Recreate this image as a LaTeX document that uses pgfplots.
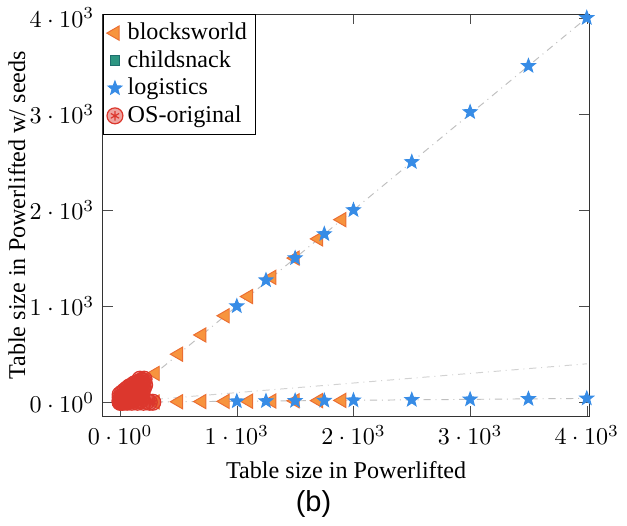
\documentclass[border=0pt]{standalone}
\usepackage{pgfplots}
\pgfplotsset{compat=1.18}
\usepackage{fontspec}
\setmainfont{Liberation Serif}
\newfontfamily\sansb{Liberation Sans}
\definecolor{bwfill}{RGB}{247,148,62}
\definecolor{bwdraw}{RGB}{235,110,50}
\definecolor{csfill}{RGB}{45,150,130}
\definecolor{csdraw}{RGB}{30,110,110}
\definecolor{lgblue}{RGB}{55,140,230}
\definecolor{osred}{RGB}{220,55,45}
\pgfdeclareplotmark{oast}{%
  \pgfpathcircle{\pgfpointorigin}{\pgfplotmarksize}\pgfusepathqfillstroke
  \pgfpathmoveto{\pgfqpoint{0pt}{-0.6\pgfplotmarksize}}\pgfpathlineto{\pgfqpoint{0pt}{0.6\pgfplotmarksize}}%
  \pgfpathmoveto{\pgfqpointpolar{30}{0.6\pgfplotmarksize}}\pgfpathlineto{\pgfqpointpolar{210}{0.6\pgfplotmarksize}}%
  \pgfpathmoveto{\pgfqpointpolar{150}{0.6\pgfplotmarksize}}\pgfpathlineto{\pgfqpointpolar{330}{0.6\pgfplotmarksize}}%
  \pgfusepathqstroke}
\pgfdeclareplotmark{fstar}{%
  \pgfpathmoveto{\pgfqpointpolar{90}{\pgfplotmarksize}}%
  \pgfpathlineto{\pgfqpointpolar{126}{0.42\pgfplotmarksize}}%
  \pgfpathlineto{\pgfqpointpolar{162}{\pgfplotmarksize}}%
  \pgfpathlineto{\pgfqpointpolar{198}{0.42\pgfplotmarksize}}%
  \pgfpathlineto{\pgfqpointpolar{234}{\pgfplotmarksize}}%
  \pgfpathlineto{\pgfqpointpolar{270}{0.42\pgfplotmarksize}}%
  \pgfpathlineto{\pgfqpointpolar{306}{\pgfplotmarksize}}%
  \pgfpathlineto{\pgfqpointpolar{342}{0.42\pgfplotmarksize}}%
  \pgfpathlineto{\pgfqpointpolar{18}{\pgfplotmarksize}}%
  \pgfpathlineto{\pgfqpointpolar{54}{0.42\pgfplotmarksize}}%
  \pgfpathclose\pgfusepathqfillstroke}
\begin{document}
\begin{tikzpicture}
\begin{axis}[
  width=202pt, height=167pt, scale only axis,
  xmin=-150, xmax=4025, ymin=-150, ymax=4040,
  xtick={0,1000,2000,3000,4000}, ytick={0,1000,2000,3000,4000},
  scaled ticks=false,
  xticklabel={\pgfmathprintnumber[sci]{\tick}},
  yticklabel={\pgfmathprintnumber[sci]{\tick}},
  xlabel={Table size in Powerlifted},
  ylabel={Table size in Powerlifted w/ seeds},
  ylabel style={yshift=-5pt},
  legend style={at={(0,1)}, anchor=north west, draw=black, font=\normalsize,
    inner sep=1.5pt, row sep=-1pt},
  legend cell align=left,
  axis line style={black!80},
  tick style={black!70},
]
\addplot[forget plot, gray!50, dash dot, thin] coordinates {(0,0) (4000,4000)};
\addplot[forget plot, gray!35, dash dot, thin] coordinates {(0,0) (4000,400)};
\addplot[forget plot, gray!50, dash dot, thin] coordinates {(0,0) (4000,40)};
\addplot[only marks, mark=triangle*, mark size=3.4pt, mark options={rotate=90, fill=bwfill, draw=bwdraw}] coordinates {
(100,100) (300,300) (500,500) (700,700) (900,900) (1100,1100) (1300,1300) (1500,1500) (1700,1700) (1900,1900)
(300,3) (500,5) (700,7) (900,9) (1100,11) (1300,13) (1500,15) (1700,17) (1900,19)
};
\addlegendentry{blocksworld}
\addplot[only marks, mark=square*, mark size=2pt, mark options={fill=csfill, draw=csdraw}] coordinates {
(10,10) (30,25) (60,50) (80,80)
};
\addlegendentry{childsnack}
\addplot[only marks, mark=fstar, mark size=3pt, mark options={draw=lgblue, fill=lgblue, line width=0.4pt}] coordinates {
(1000,1000) (1250,1270) (1500,1500) (1750,1750) (2000,2000) (2500,2500) (3000,3020) (3500,3500) (4000,4000)
(1000,10) (1250,12) (1500,15) (1750,17) (2000,20) (2500,25) (3000,30) (3500,35) (4000,40)
};
\addlegendentry{logistics}
\addplot[only marks, mark=oast, mark size=3.3pt, mark options={draw=osred, fill=osred, fill opacity=0.45, line width=0.5pt}] coordinates {
(0,0) (5,5) (10,8) (10,10) (15,12) (20,20) (25,18) (30,30) (35,28) (40,40) (45,35) (50,50) (55,45)
(60,60) (70,65) (80,80) (90,85) (100,100) (110,100) (120,120) (130,125) (140,140) (150,150)
(160,160) (170,170) (180,190) (190,200) (200,220) (205,240) (170,240) (185,225)
(20,0) (40,5) (60,10) (80,15) (100,20) (120,30) (140,40) (160,50) (180,60)
(50,20) (70,30) (90,40) (110,60) (130,80) (150,90) (170,110) (190,130) (200,150) (210,180)
(0,20) (10,40) (20,60) (40,80) (60,100) (80,120) (100,140) (120,160) (140,190) (160,210)
(0,50) (0,80) (20,100) (40,120) (60,140) (80,160) (100,170) (120,190)
(30,10) (50,30) (70,50) (90,70) (110,80) (130,100) (150,120) (170,140) (190,160)
(10,25) (30,45) (50,70) (70,90) (90,110) (110,130) (130,150) (150,170) (170,200)
(25,5) (45,15) (65,25) (85,30) (105,45) (125,55) (145,65) (165,80) (185,100)
(100,0) (150,0) (200,0) (250,0) (280,0) (230,10) (60,0) (130,10) (175,20) (5,0) (0,10)
};
\addlegendentry{OS-original}
\end{axis}
\node[anchor=north, font=\sansb\fontsize{12}{14}\selectfont] at ([yshift=2pt]current axis.outer south) {(b)};
\end{tikzpicture}
\end{document}
